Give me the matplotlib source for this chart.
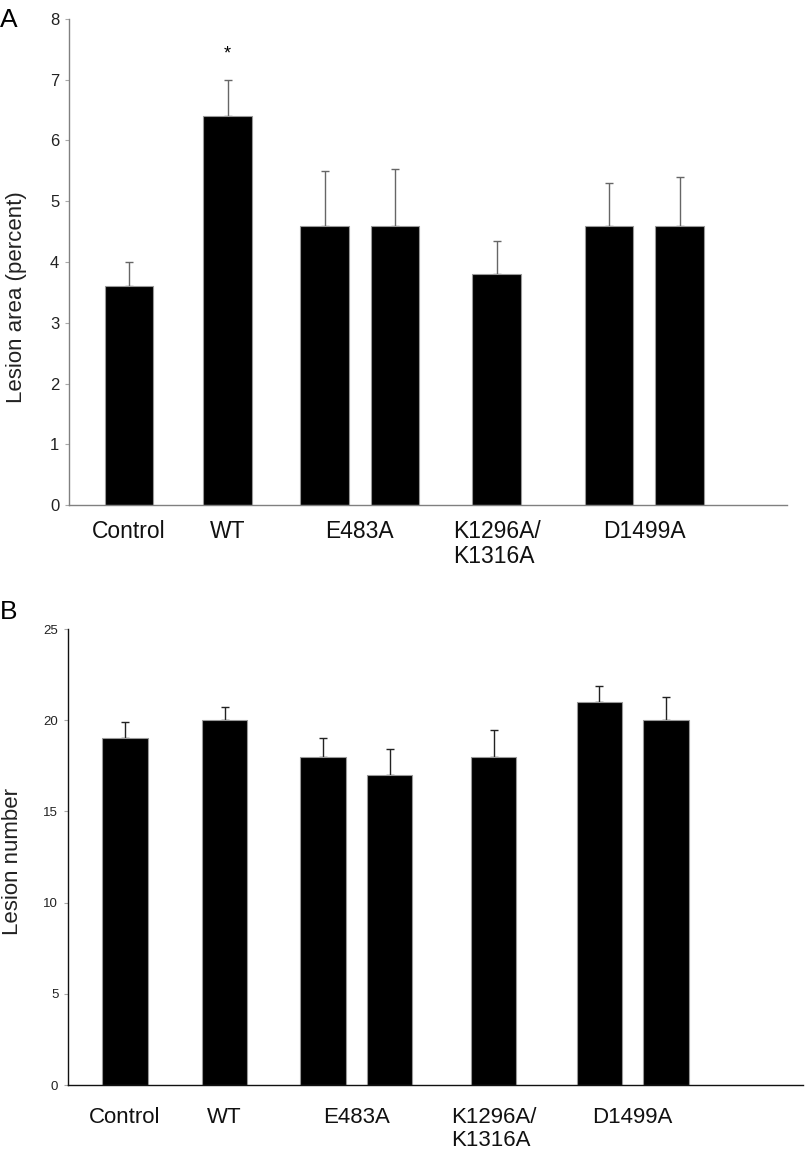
import matplotlib
matplotlib.use('Agg')
import matplotlib.pyplot as plt

plt.rcParams['font.family'] = ['Liberation Sans', 'DejaVu Sans']

groups = ['Control', 'WT', 'E483A', 'K1296A/\nK1316A', 'D1499A']
bar_group = [0, 1, 2, 2, 3, 4, 4]

area_mean = [3.6, 6.4, 4.6, 4.6, 3.8, 4.6, 4.6]
area_err = [0.4, 0.6, 0.9, 0.93, 0.55, 0.7, 0.8]

number_mean = [19, 20, 18, 17, 18, 21, 20]
number_err = [0.9, 0.7, 1.0, 1.4, 1.45, 0.85, 1.25]

# layout (bar centres in axis units, 1 unit = 100 px)
pos_a = [0.60, 1.585, 2.555, 3.26, 4.275, 5.40, 6.105]
pos_b = [0.57, 1.565, 2.55, 3.215, 4.255, 5.315, 5.98]

fig = plt.figure(figsize=(8.05, 11.58), dpi=100)


def panel(ax, pos, mean, err, width, xmax, ymax, yticks, ecolor, tick_fs,
          xlab_fs, ylabel, spine_color, label_pad):
    ax.bar(pos, mean, width=width, color='black', edgecolor='#999999',
           linewidth=0.8, zorder=2)
    ax.errorbar(pos, mean, yerr=[[0] * len(err), err], fmt='none',
                ecolor=ecolor, elinewidth=1.0, capsize=3, capthick=1.0,
                zorder=1)
    ax.set_xlim(0, xmax)
    ax.set_ylim(0, ymax)
    ax.set_yticks(yticks)
    ax.tick_params(axis='y', labelsize=tick_fs, length=3, color='#aaaaaa',
                   pad=4, labelcolor='#222222')
    centers = []
    for g in range(len(groups)):
        xs = [p for p, gg in zip(pos, bar_group) if gg == g]
        centers.append(sum(xs) / len(xs))
    ax.set_xticks(centers)
    ax.set_xticklabels(groups, fontsize=xlab_fs, va='top', linespacing=1.1,
                       multialignment='left', color='#111111')
    ax.tick_params(axis='x', length=0, pad=label_pad)
    for s in ['top', 'right']:
        ax.spines[s].set_visible(False)
    ax.spines['left'].set_color(spine_color)
    ax.spines['bottom'].set_color(spine_color)
    ax.spines['left'].set_linewidth(1.0)
    ax.spines['bottom'].set_linewidth(1.0)
    ax.set_ylabel(ylabel, fontsize=16, color='#222222')


ax1 = fig.add_axes([0.0857, 0.5639, 0.892, 0.4197])
panel(ax1, pos_a, area_mean, area_err, 0.485, 7.18, 8, range(0, 9),
      '#666666', 12, 16.5, 'Lesion area (percent)', '#808080', 11)
ax1.yaxis.set_label_coords(-0.059, 0.428)
ax1.text(pos_a[1], 7.42, '*', ha='center', va='center', fontsize=13)

ax2 = fig.add_axes([0.0845, 0.0630, 0.913, 0.3938])
panel(ax2, pos_b, number_mean, number_err, 0.455, 7.35, 25,
      range(0, 26, 5), '#222222', 9.5, 16, 'Lesion number', '#111111', 16)
ax2.yaxis.set_label_coords(-0.061, 0.491)

fig.text(0.0, 0.9935, 'A', fontsize=19, ha='left', va='top')
fig.text(0.0, 0.482, 'B', fontsize=19, ha='left', va='top')

fig.savefig('out.png', dpi=100)
